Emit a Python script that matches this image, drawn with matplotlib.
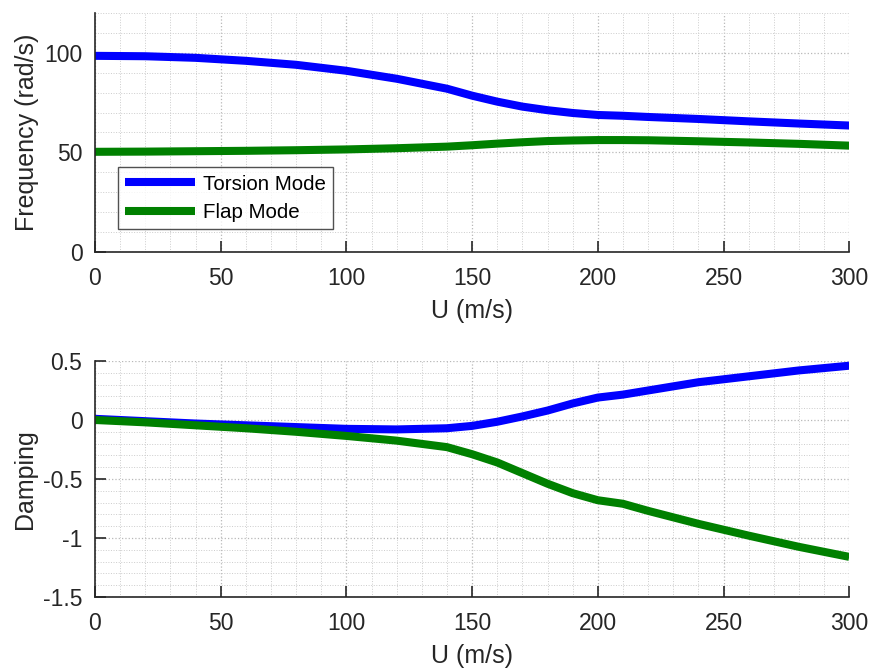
import matplotlib
matplotlib.use("Agg")
import matplotlib.pyplot as plt
from matplotlib.ticker import MultipleLocator

plt.rcParams['font.family'] = ['Liberation Sans', 'DejaVu Sans']

U = [0, 20, 40, 60, 80, 100, 120, 140, 150, 160, 170, 180, 190, 200, 210, 220, 240, 260, 280, 300]
freq_torsion = [98.5, 98.3, 97.5, 96.0, 94.0, 91.0, 87.0, 82.0, 78.5, 75.5, 73.0, 71.2, 69.8, 68.8, 68.4, 67.8, 66.8, 65.6, 64.5, 63.5]
freq_flap = [50.3, 50.4, 50.6, 50.8, 51.1, 51.5, 52.1, 52.9, 53.6, 54.4, 55.1, 55.7, 56.0, 56.2, 56.2, 56.1, 55.6, 55.0, 54.3, 53.4]
damp_torsion = [0.01, -0.01, -0.03, -0.045, -0.06, -0.075, -0.08, -0.07, -0.05, -0.015, 0.03, 0.08, 0.14, 0.19, 0.215, 0.25, 0.32, 0.37, 0.42, 0.46]
damp_flap = [0.0, -0.02, -0.045, -0.07, -0.1, -0.135, -0.175, -0.23, -0.29, -0.36, -0.45, -0.54, -0.62, -0.68, -0.71, -0.77, -0.88, -0.98, -1.075, -1.16]

labels = ['Torsion Mode', 'Flap Mode']
colors = ['#0000ff', '#008000']
x_ticks = [0, 50, 100, 150, 200, 250, 300]

fig = plt.figure(figsize=(8.71, 6.68), dpi=100)
ax1 = fig.add_axes([0.109, 0.6228, 0.866, 0.3577])
ax2 = fig.add_axes([0.109, 0.1063, 0.866, 0.3533])

def style(ax):
    for s in ['top', 'right']:
        ax.spines[s].set_visible(False)
    for s in ['left', 'bottom']:
        ax.spines[s].set_color('#262626')
        ax.spines[s].set_linewidth(1.2)
    ax.set_xlim(0, 300)
    ax.set_xticks(x_ticks)
    ax.xaxis.set_minor_locator(MultipleLocator(10))
    ax.tick_params(which='major', direction='in', length=8, width=1.2, colors='#262626', labelsize=16.5)
    ax.tick_params(axis='x', which='major', pad=11)
    ax.tick_params(axis='y', which='major', pad=9)
    ax.tick_params(which='minor', length=0)
    ax.grid(True, which='major', linestyle=':', color='#b8b8b8', linewidth=0.9)
    ax.grid(True, which='minor', linestyle=':', color='#cccccc', linewidth=0.7)
    ax.set_axisbelow(True)
    ax.set_xlabel('U (m/s)', fontsize=18, color='#262626', labelpad=6)

l1, = ax1.plot(U, freq_torsion, color=colors[0], linewidth=5.8, label=labels[0], solid_capstyle='butt')
l2, = ax1.plot(U, freq_flap, color=colors[1], linewidth=5.8, label=labels[1], solid_capstyle='butt')
style(ax1)
ax1.set_ylim(0, 120)
ax1.set_yticks([0, 50, 100])
ax1.yaxis.set_minor_locator(MultipleLocator(10))
ax1.set_ylabel('Frequency (rad/s)', fontsize=18, color='#262626', labelpad=4)
leg = ax1.legend(loc='lower left', bbox_to_anchor=(0.0305, 0.096), fontsize=14.8, handlelength=3.4,
                 frameon=True, fancybox=False, edgecolor='#262626', borderpad=0.35, borderaxespad=0,
                 labelspacing=0.45, handletextpad=0.4)
leg.get_frame().set_linewidth(1.0)

ax2.plot(U, damp_torsion, color=colors[0], linewidth=5.8, solid_capstyle='butt')
ax2.plot(U, damp_flap, color=colors[1], linewidth=5.8, solid_capstyle='butt')
style(ax2)
ax2.set_ylim(-1.5, 0.5)
ax2.set_yticks([-1.5, -1, -0.5, 0, 0.5])
ax2.set_yticklabels(['-1.5', '-1', '-0.5', '0', '0.5'])
ax2.yaxis.set_minor_locator(MultipleLocator(0.1))
ax2.set_ylabel('Damping', fontsize=18, color='#262626', labelpad=4)

fig.savefig('out.png', dpi=100)
